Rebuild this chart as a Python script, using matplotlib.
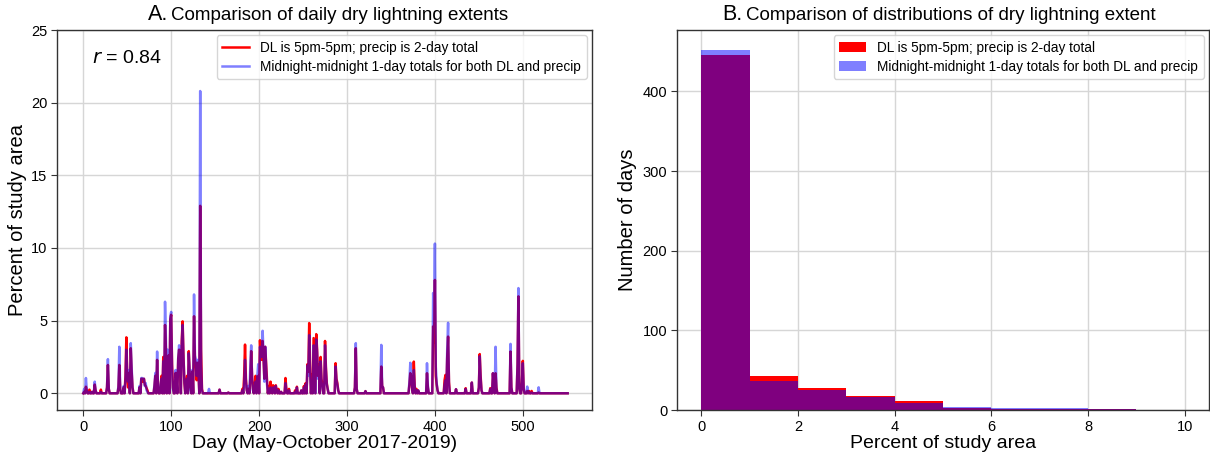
import numpy as np
import matplotlib
matplotlib.use("Agg")
import matplotlib.pyplot as plt

plt.rcParams['font.family'] = ['Liberation Sans', 'DejaVu Sans']

# ---------------- data ----------------
n_days = 552  # May-October 2017-2019
# days with non-zero dry-lightning extent, and values (% of study area)
event_days = [1, 3, 4, 7, 10, 13, 14, 20, 27, 28, 29, 40, 41, 42, 46, 48, 49, 50, 51, 52,
              54, 55, 56, 64, 66, 67, 68, 69, 70, 71, 72, 73, 81, 82, 84, 85, 88, 89, 91, 93,
              94, 96, 97, 99, 100, 101, 102, 105, 106, 108, 109, 110, 112, 113, 114, 115, 117, 118, 120, 121,
              122, 124, 126, 127, 128, 129, 130, 131, 133, 134, 135, 143, 155, 165, 181, 183, 184, 185, 186, 188,
              190, 191, 192, 193, 195, 196, 198, 199, 201, 202, 203, 204, 205, 206, 207, 208, 209, 211, 213, 214,
              216, 217, 219, 220, 222, 225, 230, 231, 234, 241, 243, 248, 251, 253, 255, 256, 257, 258, 260, 262,
              263, 265, 266, 267, 268, 270, 271, 272, 275, 276, 277, 278, 287, 288, 289, 290, 309, 310, 311, 321,
              339, 340, 341, 371, 372, 373, 374, 376, 377, 379, 381, 391, 392, 398, 399, 400, 401, 402, 403, 411,
              412, 414, 415, 416, 424, 435, 442, 450, 451, 452, 453, 463, 466, 467, 469, 470, 486, 487, 494, 495,
              496, 499, 500, 501, 505, 507, 510, 518]
dl_5pm = [0.1, 0.45, 0.2, 0.25, 0.1, 0.6, 0.2, 0.25, 0.4, 1.95, 0.3, 0.4, 1.95, 0.3, 0.4, 1.2, 3.85, 1.2, 0.4, 1.4,
          3.1, 1.5, 0.4, 0.4, 1.0, 1.0, 0.8, 1.0, 0.6, 0.5, 0.35, 0.2, 0.5, 1.2, 2.3, 0.4, 0.5, 1.2, 2.5, 4.7,
          3.0, 1.15, 2.6, 5.1, 5.4, 2.0, 0.4, 1.4, 0.9, 2.4, 3.0, 2.2, 3.6, 4.95, 2.6, 0.7, 0.6, 1.2, 2.9, 1.4,
          0.4, 1.5, 5.3, 2.3, 2.0, 0.9, 2.1, 1.5, 12.9, 3.0, 0.3, 0.0, 0.25, 0.05, 0.3, 1.2, 3.35, 1.0, 0.2, 0.3,
          1.0, 2.9, 1.2, 0.3, 0.5, 1.2, 0.6, 1.2, 3.65, 2.5, 2.3, 3.6, 2.4, 1.0, 3.2, 2.0, 0.9, 0.5, 0.8, 0.3,
          0.55, 0.2, 0.55, 0.2, 0.3, 0.1, 1.05, 0.3, 0.3, 0.2, 0.45, 0.2, 0.5, 0.7, 2.0, 1.5, 4.83, 2.0, 1.3, 3.8,
          1.8, 4.07, 3.0, 1.2, 2.0, 2.5, 1.0, 0.5, 3.6, 1.8, 0.7, 0.3, 2.07, 1.0, 0.7, 0.2, 0.4, 3.1, 0.3, 0.15,
          1.84, 0.5, 0.4, 0.6, 1.38, 1.2, 0.4, 2.18, 0.5, 0.3, 0.2, 1.38, 0.4, 4.6, 3.5, 7.8, 1.2, 0.6, 0.2, 0.9,
          1.26, 2.5, 3.9, 0.8, 0.28, 0.35, 0.74, 0.4, 2.7, 1.2, 0.2, 0.35, 1.38, 0.6, 1.38, 0.4, 2.87, 0.4, 2.0, 6.67,
          0.3, 0.8, 2.23, 0.3, 0.16, 0.16, 0.16, 0.05]
mm_1day = [0.3, 1.05, 0.2, 0.1, 0.1, 0.8, 0.2, 0.1, 0.4, 2.35, 0.3, 0.5, 3.2, 0.3, 0.5, 1.0, 3.0, 1.4, 0.8, 1.6,
           3.45, 1.8, 0.4, 0.5, 1.05, 1.05, 1.0, 1.0, 0.5, 0.7, 0.2, 0.1, 0.6, 1.4, 2.87, 0.4, 0.6, 1.0, 2.2, 6.3,
           3.6, 3.0, 2.8, 5.3, 5.6, 1.6, 0.3, 1.6, 1.0, 2.4, 3.3, 2.5, 3.4, 4.7, 2.4, 0.8, 0.5, 1.0, 2.75, 1.6,
           0.2, 1.6, 6.8, 2.6, 2.3, 1.2, 2.3, 1.5, 20.8, 2.0, 0.2, 0.3, 0.25, 0.05, 0.2, 0.5, 2.3, 0.8, 0.2, 0.5,
           1.8, 3.3, 1.0, 0.2, 0.3, 0.8, 1.2, 2.0, 3.2, 2.6, 2.5, 4.3, 2.8, 0.8, 3.2, 1.8, 0.6, 0.3, 0.4, 0.2,
           0.4, 0.2, 0.5, 0.2, 0.2, 0.1, 0.7, 0.2, 0.2, 0.1, 0.4, 0.2, 0.4, 0.6, 1.9, 1.2, 4.0, 1.5, 0.5, 3.3,
           1.5, 3.7, 2.8, 1.0, 1.8, 2.2, 0.8, 0.4, 3.3, 1.6, 0.6, 0.3, 1.84, 0.9, 0.6, 0.2, 0.4, 3.45, 0.3, 0.15,
           3.33, 0.5, 0.4, 0.8, 2.1, 1.0, 0.4, 1.6, 0.4, 0.2, 0.2, 2.07, 0.5, 6.9, 5.0, 10.3, 1.84, 0.7, 0.2, 0.6,
           0.9, 3.0, 4.85, 0.6, 0.28, 0.3, 0.74, 0.4, 2.55, 1.0, 0.2, 0.3, 1.38, 0.5, 3.2, 0.3, 3.4, 0.4, 2.0, 7.24,
           0.3, 0.7, 2.07, 0.3, 0.46, 0.1, 0.05, 0.41]

# histogram (bins of 1% from 0 to 10)
bin_edges = [0, 1, 2, 3, 4, 5, 6, 7, 8, 9, 10]
hist_dl_5pm = [445, 43, 28, 18, 11, 2, 1, 1, 1, 0]
hist_mm_1day = [452, 37, 25, 16, 9, 4, 3, 2, 1, 0]

label_red = 'DL is 5pm-5pm; precip is 2-day total'
label_blue = 'Midnight-midnight 1-day totals for both DL and precip'

# ---------------- build series ----------------
days = np.arange(n_days)
series_red = np.zeros(n_days)
series_blue = np.zeros(n_days)
series_red[event_days] = dl_5pm
series_blue[event_days] = mm_1day

W, H = 1210, 459
fig = plt.figure(figsize=(W / 100, H / 100), dpi=100)
ax1 = fig.add_axes([57/W, 1-410/H, (592-57)/W, (410-30)/H])
ax2 = fig.add_axes([677/W, 1-410/H, (1209-677)/W, (410-30)/H])

for ax in (ax1, ax2):
    ax.grid(True, color='#d6d6d6', linewidth=1.0)
    ax.set_axisbelow(True)
    for s in ax.spines.values():
        s.set_color('#333333')
        s.set_linewidth(1.0)
    ax.tick_params(labelsize=10.5, length=4, color='#333333', pad=3)

# Panel A
ax1.plot(days, series_red, color='red', linewidth=1.8, label=label_red)
ax1.plot(days, series_blue, color='blue', alpha=0.5, linewidth=1.8, label=label_blue)
ax1.set_xlim(-29.9, 578.7)
ax1.set_ylim(-1.15, 25)
ax1.set_xticks([0, 100, 200, 300, 400, 500])
ax1.set_yticks([0, 5, 10, 15, 20, 25])
ax1.set_xlabel('Day (May-October 2017-2019)', fontsize=14, labelpad=1)
ax1.set_ylabel('Percent of study area', fontsize=14.5, labelpad=3)
ax1.text(10, 22.7, r'$r$ = 0.84', fontsize=14)
ax1.legend(loc='upper right', fontsize=9.8, framealpha=0.8, borderaxespad=0.4,
           handlelength=2.0, borderpad=0.4, labelspacing=0.35)

# Panel B
widths = np.diff(bin_edges)
ax2.bar(bin_edges[:-1], hist_dl_5pm, width=widths, align='edge', color='red', label=label_red)
ax2.bar(bin_edges[:-1], hist_mm_1day, width=widths, align='edge', color='blue', alpha=0.5, label=label_blue)
ax2.set_xlim(-0.5, 10.5)
ax2.set_ylim(0, 477)
ax2.set_xticks([0, 2, 4, 6, 8, 10])
ax2.set_yticks([0, 100, 200, 300, 400])
ax2.set_xlabel('Percent of study area', fontsize=14, labelpad=1)
ax2.set_ylabel('Number of days', fontsize=14.5, labelpad=4)
ax2.legend(loc='upper right', fontsize=9.8, framealpha=0.8, borderaxespad=0.4,
           handlelength=2.0, borderpad=0.4, labelspacing=0.35)

# Titles: larger panel letter followed by the title text
ty = 1 - 20 / H
fig.text(148 / W, ty, 'A.', fontsize=15.5, va='baseline', ha='left')
fig.text(171 / W, ty, 'Comparison of daily dry lightning extents', fontsize=13.5, va='baseline', ha='left')
fig.text(722 / W, ty, 'B.', fontsize=15.5, va='baseline', ha='left')
fig.text(746 / W, ty, 'Comparison of distributions of dry lightning extent', fontsize=13.5, va='baseline', ha='left')

fig.savefig('out.png', dpi=100)
